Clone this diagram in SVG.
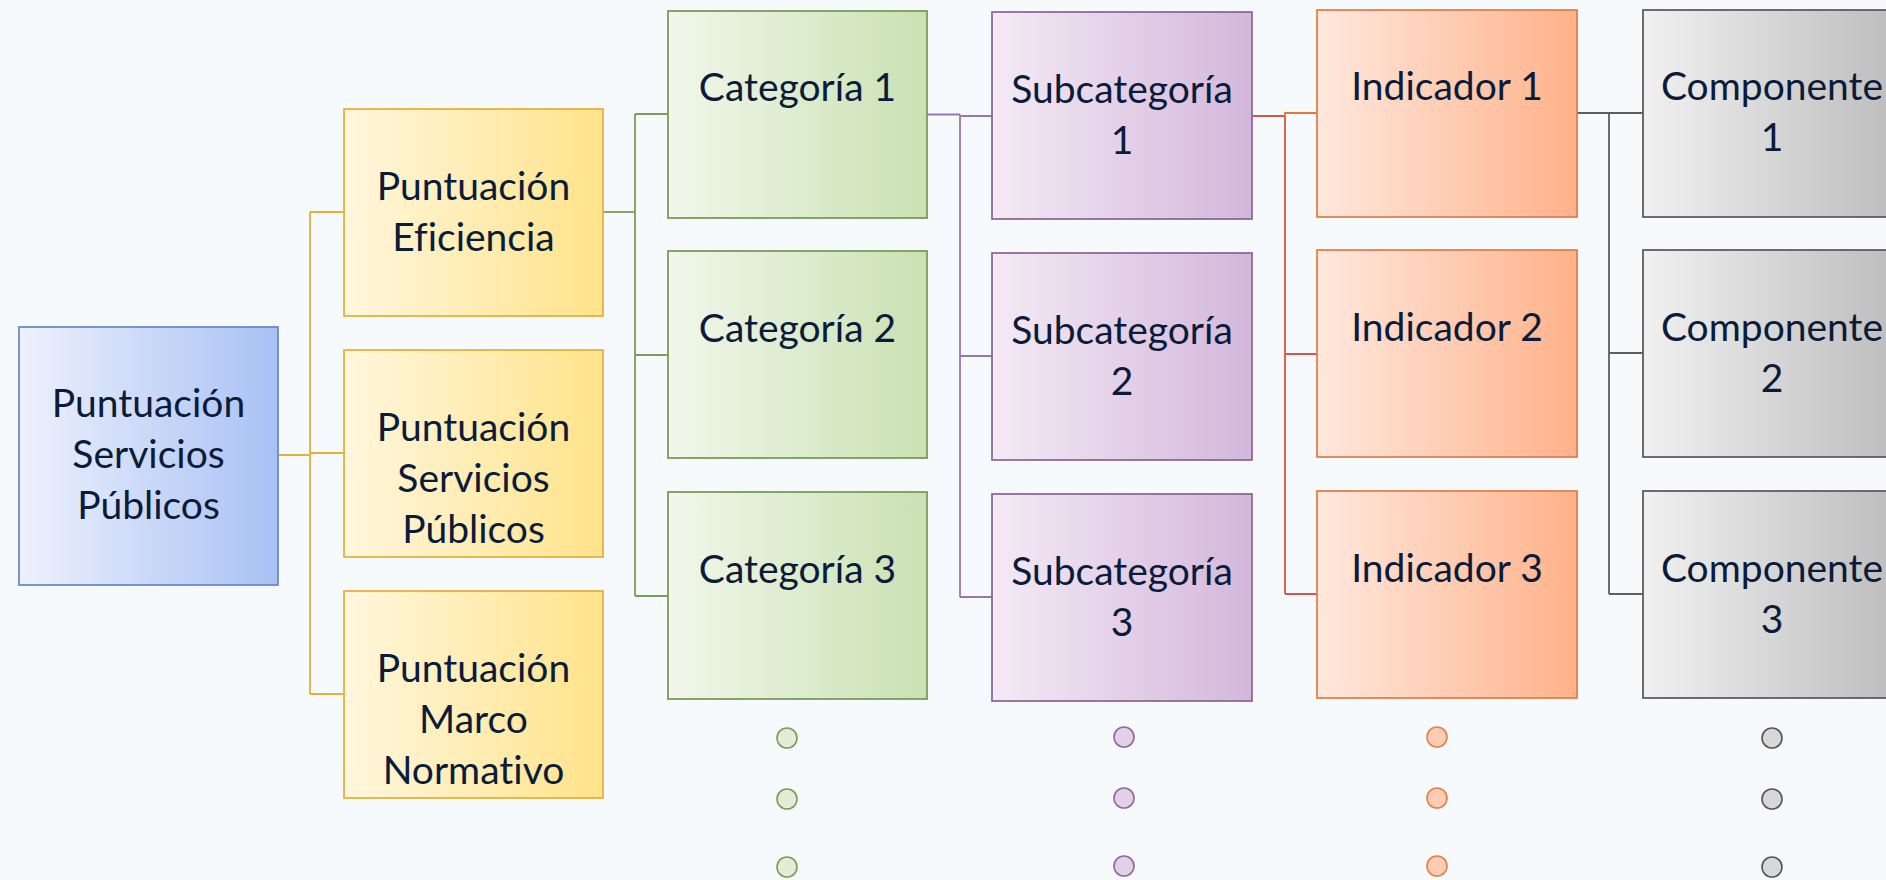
<svg xmlns="http://www.w3.org/2000/svg" width="1886" height="880" viewBox="0 0 1886 880">
<defs>
<linearGradient id="gBlue" x1="0" y1="0" x2="1" y2="0"><stop offset="0" stop-color="#EEF1FC"/><stop offset="1" stop-color="#A8C1F5"/></linearGradient>
<linearGradient id="gYel" x1="0" y1="0" x2="1" y2="0"><stop offset="0" stop-color="#FFF7DE"/><stop offset="1" stop-color="#FFE38A"/></linearGradient>
<linearGradient id="gGrn" x1="0" y1="0" x2="1" y2="0"><stop offset="0" stop-color="#F1F7EA"/><stop offset="1" stop-color="#CAE1B3"/></linearGradient>
<linearGradient id="gPur" x1="0" y1="0" x2="1" y2="0"><stop offset="0" stop-color="#F4EAF5"/><stop offset="1" stop-color="#D3B7DB"/></linearGradient>
<linearGradient id="gOrg" x1="0" y1="0" x2="1" y2="0"><stop offset="0" stop-color="#FFE8DE"/><stop offset="1" stop-color="#FFB28A"/></linearGradient>
<linearGradient id="gGry" x1="0" y1="0" x2="1" y2="0"><stop offset="0" stop-color="#F1F1F1"/><stop offset="1" stop-color="#BCBCBC"/></linearGradient>
</defs>
<style>
.t{font-family:Lato,"Open Sans","Liberation Sans",sans-serif;font-size:39px;fill:#0B1B3A;text-anchor:middle;font-variant-ligatures:none}
.box{stroke-width:1.8}
.c{fill:none;stroke-width:1.8}
.blue{fill:url(#gBlue);stroke:#6B8CC4}
.yel{fill:url(#gYel);stroke:#E5B23C}
.grn{fill:url(#gGrn);stroke:#7A9B5A}
.pur{fill:url(#gPur);stroke:#8D699D}
.org{fill:url(#gOrg);stroke:#E2804A}
.gry{fill:url(#gGry);stroke:#5E5E5E}
.dg{fill:#E2EED4;stroke:#7A9B5A;stroke-width:1.6}
.dp{fill:#E2D0E7;stroke:#8D699D;stroke-width:1.6}
.do{fill:#FFCDB4;stroke:#E2804A;stroke-width:1.6}
.dy{fill:#D8D8D8;stroke:#555555;stroke-width:1.6}
</style>
<rect x="0" y="0" width="1886" height="880" fill="#F7FAFD"/>
<g id="connectors">
<path class="c" stroke="#E5B03A" d="M278,455H310M310,212V694M310,212H344M310,453H344M310,694H344"/>
<path class="c" stroke="#7C9C5B" stroke-width="2.6" d="M603,212H635"/>
<path class="c" stroke="#7C9C5B" d="M635,114V596M635,114H668M635,355H668M635,596H668"/>
<path class="c" stroke="#9B76AA" d="M927,114.5H960M960,114.5V597M960,116H992M960,356H992M960,597H992"/>
<path class="c" stroke="#D4574A" d="M1252,116H1285M1285,116V594M1285,354H1317M1285,594H1317"/>
<path class="c" stroke="#E07B40" d="M1285,116V113H1317"/>
<path class="c" stroke="#5E5E5E" d="M1577,113H1609M1609,113V594M1609,113H1643M1609,353H1643M1609,594H1643"/>
</g>
<g id="root"><rect class="box blue" x="19" y="327" width="259" height="258"/><text class="t" x="148.5" y="417">Puntuación</text><text class="t" x="148.5" y="468">Servicios</text><text class="t" x="148.5" y="519">Públicos</text></g>
<g id="p_eficiencia"><rect class="box yel" x="344" y="109" width="259" height="207"/><text class="t" x="473.5" y="200">Puntuación</text><text class="t" x="473.5" y="251">Eficiencia</text></g>
<g id="p_servicios"><rect class="box yel" x="344" y="350" width="259" height="207"/><text class="t" x="473.5" y="441">Puntuación</text><text class="t" x="473.5" y="492">Servicios</text><text class="t" x="473.5" y="543">Públicos</text></g>
<g id="p_marco"><rect class="box yel" x="344" y="591" width="259" height="207"/><text class="t" x="473.5" y="682">Puntuación</text><text class="t" x="473.5" y="733">Marco</text><text class="t" x="473.5" y="784">Normativo</text></g>
<g id="cat1"><rect class="box grn" x="668" y="11" width="259" height="207"/><text class="t" x="797.5" y="101">Categoría 1</text></g>
<g id="cat2"><rect class="box grn" x="668" y="251" width="259" height="207"/><text class="t" x="797.5" y="342">Categoría 2</text></g>
<g id="cat3"><rect class="box grn" x="668" y="492" width="259" height="207"/><text class="t" x="797.5" y="583">Categoría 3</text></g>
<g id="sub1"><rect class="box pur" x="992" y="12" width="260" height="207"/><text class="t" x="1122" y="103">Subcategoría</text><text class="t" x="1122" y="154">1</text></g>
<g id="sub2"><rect class="box pur" x="992" y="253" width="260" height="207"/><text class="t" x="1122" y="344">Subcategoría</text><text class="t" x="1122" y="395">2</text></g>
<g id="sub3"><rect class="box pur" x="992" y="494" width="260" height="207"/><text class="t" x="1122" y="585">Subcategoría</text><text class="t" x="1122" y="636">3</text></g>
<g id="ind1"><rect class="box org" x="1317" y="10" width="260" height="207"/><text class="t" x="1447" y="100">Indicador 1</text></g>
<g id="ind2"><rect class="box org" x="1317" y="250" width="260" height="207"/><text class="t" x="1447" y="341">Indicador 2</text></g>
<g id="ind3"><rect class="box org" x="1317" y="491" width="260" height="207"/><text class="t" x="1447" y="582">Indicador 3</text></g>
<g id="comp1"><rect class="box gry" x="1643" y="10" width="258" height="207"/><text class="t" x="1772" y="100">Componente</text><text class="t" x="1772" y="151">1</text></g>
<g id="comp2"><rect class="box gry" x="1643" y="250" width="258" height="207"/><text class="t" x="1772" y="341">Componente</text><text class="t" x="1772" y="392">2</text></g>
<g id="comp3"><rect class="box gry" x="1643" y="491" width="258" height="207"/><text class="t" x="1772" y="582">Componente</text><text class="t" x="1772" y="633">3</text></g>
<g id="dots">
<circle class="dg" cx="787" cy="738" r="10"/><circle class="dg" cx="787" cy="799" r="10"/><circle class="dg" cx="787" cy="867" r="10"/>
<circle class="dp" cx="1124" cy="737" r="10"/><circle class="dp" cx="1124" cy="798" r="10"/><circle class="dp" cx="1124" cy="866" r="10"/>
<circle class="do" cx="1437" cy="737" r="10"/><circle class="do" cx="1437" cy="798" r="10"/><circle class="do" cx="1437" cy="866" r="10"/>
<circle class="dy" cx="1772" cy="738" r="10"/><circle class="dy" cx="1772" cy="799" r="10"/><circle class="dy" cx="1772" cy="867" r="10"/>
</g>
</svg>
